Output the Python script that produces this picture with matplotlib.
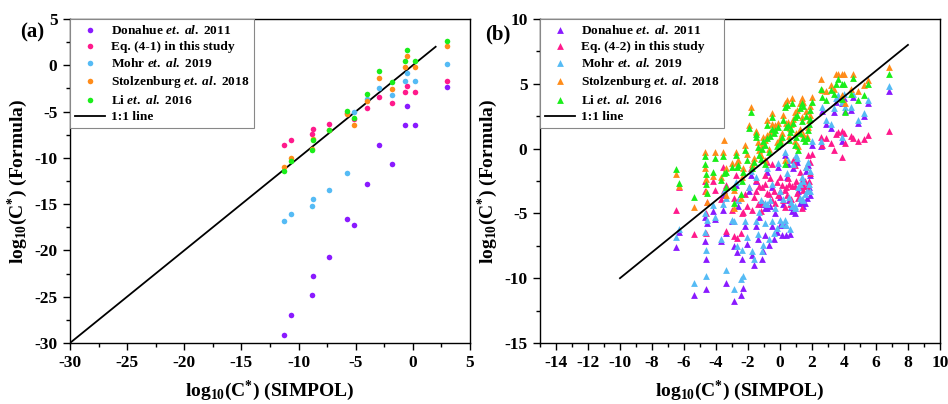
import matplotlib
matplotlib.use("Agg")
import matplotlib.pyplot as plt
from matplotlib.ticker import MultipleLocator

plt.rcParams["font.family"] = ["Liberation Serif", "DejaVu Serif"]
plt.rcParams["font.weight"] = "bold"
plt.rcParams["axes.unicode_minus"] = False
plt.rcParams["mathtext.fontset"] = "custom"
plt.rcParams["mathtext.rm"] = "Liberation Serif:bold"
plt.rcParams["mathtext.it"] = "Liberation Serif:bold:italic"
plt.rcParams["mathtext.bf"] = "Liberation Serif:bold"

series_names = [
    "Donahue $\\it{et.}$ $\\it{al.}$ 2011",
    "Eq. (4-1) in this study",
    "Mohr $\\it{et.}$ $\\it{al.}$ 2019",
    "Stolzenburg $\\it{et.}$ $\\it{al.}$ 2018",
    "Li $\\it{et.}$ $\\it{al.}$ 2016",
]
series_names_b = list(series_names)
series_names_b[1] = "Eq. (4-2) in this study"
colors = ["#8a1aff", "#ff1a8c", "#55bbf5", "#ff8c1a", "#1aee1a"]

# ---- panel (a): log10 C* from SIMPOL vs formulas ----
simpol_a = [-11.3, -10.7, -8.8, -8.7, -7.3, -5.8, -5.15, -4.0, -2.95, -1.8, -0.65, -0.5, 0.2, 3.0]
donahue_a = [-29.1, -27.0, -24.85, -22.8, -20.7, -16.6, -17.2, -12.85, -8.6, -10.7, -6.5, -4.4, -6.5, -2.4]
eq41_a = [-8.6, -8.05, -7.45, -6.85, -6.3, -5.2, -5.85, -4.65, -3.45, -4.05, -2.85, -2.25, -2.85, -1.7]
mohr_a = [-16.8, -16.05, -15.25, -14.4, -13.5, -11.6, -5.1, -3.6, -2.45, -3.2, -1.65, -0.85, -1.65, 0.15]
stolz_a = [-11.0, -10.0, -9.05, -8.0, -6.95, -5.3, -6.4, -3.85, -1.4, -2.6, -0.2, 0.95, -0.2, 2.1]
li_a = [-11.45, -10.3, -9.15, -8.05, -7.0, -4.95, -5.7, -3.1, -0.6, -1.85, 0.5, 1.6, 0.5, 2.6]

# ---- panel (b) ----
simpol_b = [-6.52, -6.29, -5.37, -4.69, -4.66, -4.63, -4.6, -4.57, -4.2, -4.06,
            -3.71, -3.54, -3.5, -3.38, -3.36, -3.02, -2.87, -2.9, -2.77, -2.46,
            -2.4, -2.3, -2.04, -1.92, -1.83, -1.77, -1.63, -1.52, -1.2, -1.15,
            -1.04, -0.92, -0.83, -0.67, -0.52, -0.375, -0.21, -0.1, 0.0, 0.1,
            0.31, 0.3, 0.4, 0.55, 0.73, 0.83, 0.94, 1.0, 1.25, 1.35,
            1.46, 1.56, 1.7, 1.77, 1.83, 2.54, 2.6, 2.87, 3.4, 3.48,
            3.6, 3.85, 3.87, 4.02, 4.06, 4.44, 4.58, 4.9, 5.27, 5.48, 6.81,
            -1.5, -0.94, 0.0, 0.42, 0.52, 1.04, 1.25, 1.35, -0.3, -1.3,
            -2.2, -2.6, -0.6, 0.2, 0.65, 1.1, 1.6, 1.9, 3.2, 2.0,
            -0.8, 0.7, 1.45, -1.4, -0.5, 1.9, 0.95, -2.7]
donahue_b = [-7.6, -6.4, -11.3, -5.25, -7.15, -8.55, -10.8, -5.75, -4.8, -5.4,
             -7.1, -4.7, -3.6, -10.4, -6.5, -5.6, -7.54, -11.77, -2.8, -11.3,
             -8.5, -10.74, -7.4, -3.3, -2.0, -8.2, -8.95, -2.5, -4.3, -8.51,
             -7.92, -6.64, -1.8, -7.44, -3.0, -7.0, -6.4, -1.4, -5.9, -6.64,
             -0.5, -5.87, -6.64, -4.0, -4.85, -1.5, -4.59, -0.8, -4.2, -4.2,
             -2.8, -4.2, -3.82, -1.3, -3.0, 0.2, 2.9, 1.9, 2.8, 3.6,
             3.9, 3.49, 0.6, 3.9, 2.9, 3.0, 4.0, 2.0, 2.5, 3.54, 4.46,
             -6.0, -4.6, -3.7, -2.2, -1.2, -1.0, -3.0, -2.5, -5.0, -5.3,
             -6.0, -4.4, -4.4, -4.3, -6.6, -3.3, -1.7, -2.0, 1.6, 0.3,
             -4.6, -4.5, -4.4, -7.0, -6.0, -3.6, -5.0, -8.0]
eq42_b = [-4.7, -3.0, -6.6, -2.5, -3.3, -4.97, -6.5, -4.1, -2.5, -3.2,
          -3.9, -1.4, -3.2, -6.38, -2.8, -4.72, -6.77, -3.8, -2.0, -6.5,
          -4.97, -4.9, -4.4, -3.0, -1.5, -4.72, -3.7, -2.4, -4.85, -3.0,
          -4.2, -2.7, -1.0, -3.5, -3.95, -3.3, -2.6, -3.56, -3.3, -2.8,
          -3.18, -4.5, -3.0, -2.7, -2.92, -0.9, -2.92, -2.5, -2.7, -2.6,
          -2.92, -2.5, -2.9, -0.5, -2.5, 0.92, 0.28, 0.79, -0.1, 1.13,
          1.3, 1.36, -0.62, 1.18, 0.41, 0.97, 0.79, 0.59, 0.74, 1.05, 1.36,
          -3.3, -2.0, -2.2, -3.6, -2.3, -3.4, -1.8, -4.6, -4.2, -2.9,
          -3.5, -4.0, -2.3, -4.0, -4.3, -3.8, -1.4, -1.9, 0.4, -0.4,
          -3.4, -3.9, -3.2, -4.3, -1.2, -1.0, -1.3, -6.9]
mohr_b = [-6.85, -6.2, -10.4, -5.0, -6.4, -7.85, -9.85, -5.5, -4.35, -5.3,
          -6.95, -4.3, -3.3, -9.33, -3.8, -5.5, -5.6, -10.87, -2.6, -10.1,
          -7.85, -9.85, -6.82, -3.0, -1.7, -7.92, -8.51, -2.2, -4.0, -7.92,
          -7.41, -5.74, -1.5, -7.0, -2.7, -6.5, -6.13, -1.1, -5.5, -5.8,
          -0.3, -5.5, -5.9, -3.7, -4.4, -1.2, -4.41, -0.5, -3.82, -3.9,
          -2.5, -3.5, -3.3, -1.0, -2.7, 0.6, 3.23, 2.2, 3.1, 3.9,
          4.1, 3.6, 0.9, 4.2, 3.18, 3.23, 4.25, 2.2, 2.72, 3.74, 4.82,
          -5.6, -4.2, -3.3, -1.9, -0.9, -0.7, -2.7, -2.2, -4.6, -4.9,
          -5.6, -4.0, -4.0, -3.9, -6.2, -3.0, -1.4, -1.7, 1.9, 0.6,
          -4.3, -4.1, -4.0, -6.6, -5.6, -3.3, -4.6, -7.5]
stolz_b = [-1.95, -2.85, -4.5, -0.25, -1.5, -2.35, -3.3, -4.1, -2.1, -0.25,
           -2.2, -0.25, 0.65, -3.6, -1.5, -1.12, -3.2, -4.6, -0.23, -3.8,
           -2.2, -1.5, -0.4, 1.83, 3.24, -1.2, -0.7, 1.36, -0.5, 0.3,
           0.9, -0.9, 1.06, 0.0, 2.72, 1.5, 0.5, 2.0, 0.8, 1.2,
           3.49, -0.9, 2.0, 1.0, 3.88, 2.3, 0.6, 1.2, 1.5, 2.4,
           3.62, 0.8, 1.0, 1.7, 2.2, 5.34, 4.5, 4.41, 4.56, 5.79,
           5.79, 4.15, 5.79, 5.79, 3.49, 4.6, 5.79, 4.43, 4.9, 5.28, 6.26,
           1.3, 0.67, 0.67, 3.74, 2.08, 2.97, 3.49, 3.87, 1.8, -0.1,
           0.3, -0.9, 1.3, 2.6, 1.6, 0.2, 2.9, 3.3, 4.9, 4.0,
           2.2, 1.9, 1.1, 0.5, 1.9, 2.6, 2.8, -1.0]
li_b = [-1.6, -2.65, -3.72, -0.6, -1.2, -1.95, -2.75, -3.45, -1.8, -0.7,
        -2.4, -0.6, -1.9, -3.0, -1.8, -1.4, -3.0, -4.2, -0.5, -3.5,
        -2.5, -1.8, -0.9, 1.6, 2.8, -1.5, -1.0, 1.1, -0.8, 0.0,
        0.6, -1.2, 0.8, -0.3, 2.41, 1.2, 0.2, 1.7, 0.5, 0.9,
        3.23, -1.2, 1.7, 0.7, 3.5, 2.0, 0.3, 0.9, 1.2, 2.1,
        3.3, 0.6, 0.8, 1.4, 1.9, 4.57, 4.0, 3.74, 4.2, 5.0,
        5.36, 3.8, 5.0, 5.0, 2.85, 4.2, 5.41, 3.74, 4.15, 4.97, 5.77,
        0.9, 0.3, 0.4, 3.36, 1.8, 2.6, 3.1, 3.5, 1.4, -0.5,
        -0.1, -1.3, 1.0, 2.2, 1.3, -0.1, 2.5, 3.0, 4.5, 3.6,
        1.8, 1.5, 0.8, 0.1, 1.5, 2.3, 2.4, -1.4]

line_a = [-30, 2]
line_b = [-10, 8]


def style_axes(ax, xmaj, xmin, ymaj, ymin):
    ax.xaxis.set_major_locator(MultipleLocator(xmaj))
    ax.xaxis.set_minor_locator(MultipleLocator(xmin))
    ax.yaxis.set_major_locator(MultipleLocator(ymaj))
    ax.yaxis.set_minor_locator(MultipleLocator(ymin))
    ax.tick_params(which="both", direction="out", top=False, right=False,
                   width=1.0, labelsize=12.5, pad=4)
    ax.tick_params(which="major", length=5)
    ax.tick_params(which="minor", length=3)
    for s in ax.spines.values():
        s.set_linewidth(1.0)
    for lab in ax.get_xticklabels() + ax.get_yticklabels():
        lab.set_fontweight("bold")
    ax.set_xlabel("log$_{10}$(C$^{*}$) (SIMPOL)", fontsize=14, fontweight="bold", labelpad=5)
    ax.set_ylabel("log$_{10}$(C$^{*}$) (Formula)", fontsize=14, fontweight="bold", labelpad=3)


def add_legend(ax):
    leg = ax.legend(loc="upper left", borderaxespad=0.0, fancybox=False,
                    edgecolor="#888888", framealpha=1.0,
                    handlelength=2.3, handletextpad=0.45, labelspacing=0.3,
                    borderpad=0.35, prop={"weight": "bold", "size": 9.6})
    leg.get_frame().set_linewidth(0.8)


fig = plt.figure(figsize=(9.48, 4.04), dpi=100)
ax_a = fig.add_axes([0.0738, 0.151, 0.4219, 0.802])
ax_b = fig.add_axes([0.5696, 0.151, 0.4219, 0.802])

ys_a = [donahue_a, eq41_a, mohr_a, stolz_a, li_a]
for ys, c, name in zip(ys_a, colors, series_names):
    ax_a.scatter(simpol_a, ys, s=16, color=c, marker="o", linewidths=0, label=name, zorder=3)
ax_a.plot(line_a, line_a, color="black", lw=1.3, label="1:1 line", zorder=2)
ax_a.set_xlim(-30, 5)
ax_a.set_ylim(-30, 5)
style_axes(ax_a, 5, 2.5, 5, 2.5)
add_legend(ax_a)
fig.text(0.021, 0.92, "(a)", fontsize=15, fontweight="bold", va="center")

ys_b = [donahue_b, eq42_b, mohr_b, stolz_b, li_b]
for ys, c, name in zip(ys_b, colors, series_names_b):
    ax_b.scatter(simpol_b, ys, s=24, color=c, marker="^", linewidths=0, label=name, zorder=3)
ax_b.plot(line_b, line_b, color="black", lw=1.3, label="1:1 line", zorder=4)
ax_b.set_xlim(-15, 10)
ax_b.set_ylim(-15, 10)
style_axes(ax_b, 2, 1, 5, 2.5)
ax_b.set_xticks(range(-14, 11, 2))
add_legend(ax_b)
fig.text(0.512, 0.915, "(b)", fontsize=15, fontweight="bold", va="center")

fig.savefig("out.png", dpi=100)
